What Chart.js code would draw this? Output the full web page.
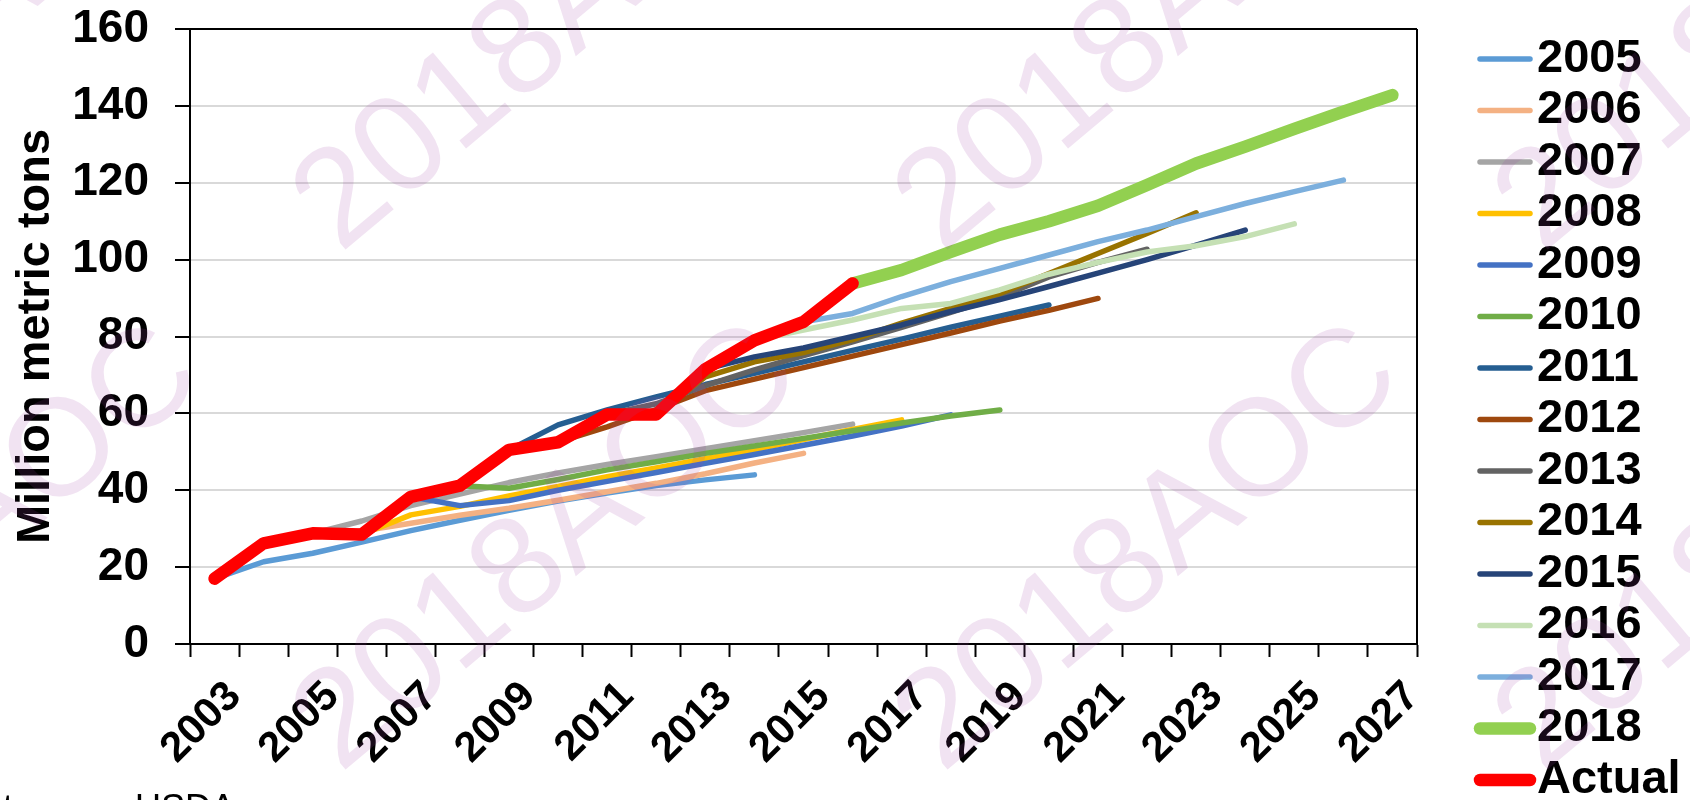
<!DOCTYPE html>
<html>
<head>
<meta charset="utf-8">
<title>Projections vs actual</title>
<script src="https://cdn.jsdelivr.net/npm/chart.js@4"></script>
<style>
  html, body { margin: 0; padding: 0; background: #fff; overflow: hidden; }
  #wrap { position: relative; width: 1690px; height: 800px; overflow: hidden; background: #fff; }
  #chart { position: absolute; left: 0; top: 0; }
  #note { position: absolute; left: -43px; top: 790px; font: 36px "Liberation Sans", Arial, sans-serif; line-height: 36px; white-space: nowrap; color: #000; }
</style>
</head>
<body>
<div id="wrap">
  <canvas id="chart" width="1690" height="800"></canvas>
  <div id="note">Note:<span style="margin-left:92px">USDA</span></div>
</div>
<script>
// ====== DATA ======
const years = ["2003", "2004", "2005", "2006", "2007", "2008", "2009", "2010", "2011",
  "2012", "2013", "2014", "2015", "2016", "2017", "2018", "2019", "2020", "2021",
  "2022", "2023", "2024", "2025", "2026", "2027"];

const yTicks = [0, 20, 40, 60, 80, 100, 120, 140, 160];

const seriesNames = ["2005", "2006", "2007", "2008", "2009", "2010", "2011", "2012",
  "2013", "2014", "2015", "2016", "2017", "2018", "Actual"];

// first year of each series
const seriesStart = [2003, 2004, 2005, 2006, 2007, 2008, 2009, 2010,
  2011, 2012, 2013, 2014, 2015, 2016, 2003];

const v2005 = [17, 21.4, 23.6, 26.5, 29.5, 32.2, 34.8, 37.2, 39.3, 41.2, 42.7, 44];
const v2006 = [26.2, 28, 29.4, 31.4, 33.5, 35.3, 37.4, 39.6, 41.8, 44.3, 47.1, 49.6];
const v2007 = [28.8, 32, 36, 39, 42, 44.5, 46.7, 48.7, 50.8, 52.9, 55, 57.2];
const v2008 = [28.5, 33.6, 35.8, 38.5, 41, 43.5, 45.8, 48.2, 50.6, 53.2, 55.8, 58.3];
const v2009 = [38.3, 36, 37.3, 40, 42.3, 44.6, 47, 49.3, 51.7, 54.1, 56.7, 59.6];
const v2010 = [41.2, 40.5, 42.8, 45.3, 47.4, 49.6, 51.5, 53.5, 55.5, 57.5, 59.3, 60.9];
const v2011 = [50.5, 57, 60.9, 64.3, 67.5, 70.4, 73.4, 76.4, 79.3, 82.4, 85.3, 88.2];
const v2012 = [52.5, 56.5, 61, 65.9, 68.9, 71.9, 74.9, 77.9, 80.9, 84, 86.8, 89.9];
const v2013 = [59.7, 62.5, 67.2, 71.3, 75, 78.6, 82.4, 86.3, 90.3, 95.5, 99.3, 102.7];
const v2014 = [59.7, 69.5, 73.4, 75.8, 79.2, 83.5, 87.3, 91.2, 96.4, 101.6, 106.8, 112.2];
const v2015 = [71.5, 74.7, 77, 80, 83, 86.5, 89.6, 93, 96.5, 100, 103.8, 107.7];
const v2016 = [79, 81.7, 84.3, 87.3, 88.6, 92.1, 96.2, 99.3, 102, 103.6, 106, 109.3];
const v2017 = [83.8, 86, 90.4, 94.3, 97.7, 101.2, 104.7, 107.7, 111.2, 114.6, 117.7, 120.7];
const v2018 = [93.8, 97.3, 102, 106.5, 110, 114, 119.4, 125, 129.4, 134, 138.5, 142.8];
const actual = [17, 26.2, 28.8, 28.5, 38.3, 41.2, 50.5, 52.5, 59.7, 59.7, 71.5, 79, 83.8, 93.8];

const seriesValues = [v2005, v2006, v2007, v2008, v2009, v2010, v2011, v2012,
  v2013, v2014, v2015, v2016, v2017, v2018, actual];

// ====== STYLE ======
const seriesColors = ["#5B9BD5", "#F4B183", "#A5A5A5", "#FFC000", "#4472C4", "#70AD47",
  "#255E91", "#9E480E", "#636363", "#997300", "#264478", "#C5E0B4", "#7CAFDD",
  "#92D050", "#FF0000"];
const thickSeries = ["2018", "Actual"];

const FONT = '"Liberation Sans", Arial, sans-serif';
Chart.defaults.font.family = FONT;
Chart.defaults.color = "#000";

function padSeries(start, values) {
  const out = years.map(() => null);
  const off = years.indexOf(String(start));
  values.forEach((v, i) => { out[off + i] = v; });
  return out;
}

const datasets = seriesNames.map((name, i) => ({
  label: name,
  data: padSeries(seriesStart[i], seriesValues[i]),
  borderColor: seriesColors[i],
  backgroundColor: seriesColors[i],
  borderWidth: thickSeries.includes(name) ? 12.5 : 5.5,
  borderCapStyle: "round",
  borderJoinStyle: "round",
  pointRadius: 0,
  pointHoverRadius: 0,
  tension: 0,
  spanGaps: false,
  order: seriesNames.length - i, // later series on top, like the original
}));

// ====== PLUGINS ======
const framePlugin = {
  id: "frame",
  beforeDatasetsDraw(chart) {
    const { ctx, chartArea: a } = chart;
    ctx.save();
    ctx.strokeStyle = "#000";
    ctx.lineWidth = 2;
    ctx.beginPath();
    ctx.moveTo(a.right, a.top);
    ctx.lineTo(a.right, a.bottom);
    ctx.stroke();
    ctx.restore();
  },
};

const sideLegend = {
  id: "sideLegend",
  afterDraw(chart) {
    const ctx = chart.ctx;
    ctx.save();
    chart.data.datasets.forEach((ds, i) => {
      const y = 59 + i * 51.5;
      ctx.strokeStyle = ds.borderColor;
      ctx.lineWidth = ds.borderWidth;
      ctx.lineCap = "round";
      ctx.beginPath();
      ctx.moveTo(1480, y);
      ctx.lineTo(1530, y);
      ctx.stroke();
      ctx.fillStyle = "#000";
      ctx.font = "bold 47px " + FONT;
      ctx.textAlign = "left";
      ctx.textBaseline = "middle";
      ctx.fillText(ds.label, 1537, y);
    });
    ctx.restore();
  },
};

const watermark = {
  id: "watermark",
  afterDraw(chart) {
    const ctx = chart.ctx;
    ctx.save();
    ctx.fillStyle = "rgba(160, 70, 165, 0.15)";
    ctx.font = "138px " + FONT;
    ctx.textAlign = "center";
    ctx.textBaseline = "middle";
    [30, 550, 1086].forEach((cy) => {
      [-50, 548, 1150, 1750].forEach((cx) => {
        ctx.save();
        ctx.translate(cx, cy);
        ctx.rotate(-40 * Math.PI / 180);
        ctx.fillText("2018AOC", 0, 0);
        ctx.restore();
      });
    });
    ctx.restore();
  },
};

// ====== CHART ======
new Chart(document.getElementById("chart"), {
  type: "line",
  data: { labels: years, datasets },
  plugins: [framePlugin, sideLegend, watermark],
  options: {
    responsive: false,
    animation: false,
    layout: { padding: { left: 0, top: 29, right: 273, bottom: 0 } },
    plugins: { legend: { display: false }, tooltip: { enabled: false } },
    scales: {
      x: {
        offset: true,
        grid: {
          offset: true,
          drawOnChartArea: false,
          tickLength: 13,
          tickColor: "#000",
          tickWidth: 2,
        },
        border: { color: "#000", width: 2 },
        ticks: {
          autoSkip: false,
          minRotation: 45,
          maxRotation: 45,
          padding: 18,
          labelOffset: 20,
          color: "#000",
          font: { size: 42, weight: "bold", lineHeight: 1 },
          callback: (v, i) => (i % 2 === 0 ? years[i] : ""),
        },
        afterFit(scale) { scale.height = 156; },
      },
      y: {
        min: yTicks[0],
        max: yTicks[yTicks.length - 1],
        afterBuildTicks(scale) { scale.ticks = yTicks.map((v) => ({ value: v })); },
        grid: {
          color: (c) => (c.tick && c.tick.value === 160 ? "#000" : "#D9D9D9"),
          lineWidth: 2,
          tickLength: 15,
          tickColor: "#000",
          tickWidth: 2,
        },
        border: { color: "#000", width: 2 },
        ticks: {
          padding: 26,
          color: "#000",
          font: { size: 46, weight: "bold", lineHeight: 1 },
        },
        title: {
          display: true,
          text: "Million metric tons",
          color: "#000",
          padding: { top: 13, bottom: 0 },
          font: { size: 47, weight: "bold", lineHeight: 1 },
        },
        afterFit(scale) {
          scale.width = 190;
          // the label padding must not push the plot area down
          scale.paddingTop = 0;
          scale.paddingBottom = 0;
        },
      },
    },
  },
});
</script>
</body>
</html>
